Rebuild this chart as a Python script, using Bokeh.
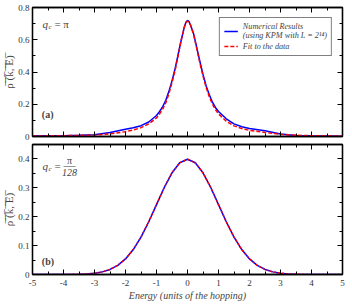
from bokeh.plotting import figure
from bokeh.models import (Range1d, LinearAxis, Label, Legend, LegendItem,
                          SingleIntervalTicker, CustomJSTickFormatter)
from bokeh.layouts import column
from bokeh.embed import file_html
from bokeh.resources import INLINE

# ---------------- data ----------------
E_top = [-5, -4.5, -4, -3.5, -3, -2.5, -2, -1.75, -1.5, -1.25, -1, -0.9, -0.8,
         -0.7, -0.6, -0.5, -0.4, -0.3, -0.2, -0.1, -0.05, 0, 0.05, 0.1, 0.2,
         0.3, 0.4, 0.5, 0.6, 0.7, 0.8, 0.9, 1, 1.25, 1.5, 1.75, 2, 2.5, 3,
         3.5, 4, 4.5, 5]
rho_num_a = [0.003, 0.004, 0.005, 0.007, 0.011, 0.025, 0.045, 0.054, 0.067,
             0.09, 0.13, 0.155, 0.185, 0.225, 0.28, 0.345, 0.42, 0.51, 0.6,
             0.68, 0.708, 0.72, 0.712, 0.69, 0.635, 0.55, 0.465, 0.385,
             0.315, 0.26, 0.215, 0.18, 0.155, 0.11, 0.078, 0.06, 0.049,
             0.035, 0.016, 0.006, 0.004, 0.003, 0.002]
rho_fit_a = [0.003, 0.004, 0.005, 0.007, 0.009, 0.016, 0.03, 0.04, 0.055,
             0.078, 0.115, 0.14, 0.17, 0.21, 0.265, 0.335, 0.41, 0.505, 0.6,
             0.68, 0.706, 0.716, 0.708, 0.69, 0.63, 0.545, 0.455, 0.375,
             0.305, 0.248, 0.203, 0.167, 0.14, 0.095, 0.066, 0.049, 0.038,
             0.025, 0.013, 0.008, 0.005, 0.004, 0.003]

E_bot = [-5, -4.75, -4.5, -4.25, -4, -3.75, -3.5, -3.25, -3, -2.75, -2.5,
         -2.25, -2, -1.75, -1.5, -1.25, -1, -0.75, -0.5, -0.25, 0, 0.25, 0.5,
         0.75, 1, 1.25, 1.5, 1.75, 2, 2.25, 2.5, 2.75, 3, 3.25, 3.5, 3.75, 4,
         4.25, 4.5, 4.75, 5]
rho_num_b = [0.0, 0.0, 0.0, 0.0001, 0.0001, 0.0004, 0.0009, 0.002, 0.0044,
             0.0091, 0.0175, 0.0317, 0.054, 0.0863, 0.1295, 0.1826, 0.242,
             0.3011, 0.3521, 0.3867, 0.3989, 0.3867, 0.3521, 0.3011, 0.242,
             0.1826, 0.1295, 0.0863, 0.054, 0.0317, 0.0175, 0.0091, 0.0044,
             0.002, 0.0009, 0.0004, 0.0001, 0.0001, 0.0, 0.0, 0.0]
rho_fit_b = list(rho_num_b)

x_ticks = [-5, -4, -3, -2, -1, 0, 1, 2, 3, 4, 5]
x_tick_labels = ["-5", "-4", "-3", "-2", "-1", "0", "1", "2", "3", "4", "5"]
ya_ticks = [0, 0.2, 0.4, 0.6, 0.8]
ya_tick_labels = ["0", "0.2", "0.4", "0.6", "0.8"]
yb_ticks = [0, 0.1, 0.2, 0.3, 0.4]
yb_tick_labels = ["0", "0.1", "0.2", "0.3", "0.4"]
legend_labels = ["Numerical Results\n(using KPM with L = 2\u00b9\u2074)",
                 "Fit to the data"]

SERIF = "Liberation Serif"
BLUE = "#0000ff"
RED = "#ff0000"
YLABEL = "\u03c1\u0305 \u0305(\u0305k\u0305,\u0305 \u0305E\u0305)\u0305"


def tick_style(ax):
    ax.major_tick_in = 5
    ax.major_tick_out = 0
    ax.minor_tick_in = 3
    ax.minor_tick_out = 0
    ax.axis_line_color = "black"
    ax.axis_line_width = 1.3
    ax.major_tick_line_width = 1
    ax.minor_tick_line_width = 1


def label_style(ax):
    ax.major_label_text_font = SERIF
    ax.major_label_text_font_size = "9px"
    ax.major_label_text_color = "#333333"
    ax.major_label_standoff = 3


def make_panel(ymax, frame_h, top_border, bottom_border, major_y,
               y_ticks, y_tick_labels, show_x_labels):
    p = figure(frame_width=310, frame_height=frame_h,
               x_range=Range1d(-5, 5), y_range=Range1d(0, ymax),
               output_backend="svg", toolbar_location=None,
               min_border_left=0, min_border_right=6,
               min_border_top=top_border, min_border_bottom=bottom_border)
    p.grid.visible = False
    p.outline_line_color = "black"
    p.outline_line_width = 1.3
    p.background_fill_color = "white"

    xb = p.below[0]
    yl = p.left[0]
    tick_style(xb)
    tick_style(yl)
    label_style(xb)
    label_style(yl)
    xb.ticker = SingleIntervalTicker(interval=1, num_minor_ticks=2)
    yl.ticker = SingleIntervalTicker(interval=major_y, num_minor_ticks=2)
    yl.major_label_overrides = dict(zip(y_ticks, y_tick_labels))
    if show_x_labels:
        xb.major_label_overrides = dict(zip(x_ticks, x_tick_labels))
        xb.major_label_standoff = 5
    else:
        xb.formatter = CustomJSTickFormatter(code="return ''")
        xb.major_label_standoff = 0
    yl.axis_label = YLABEL
    yl.axis_label_text_font = SERIF
    yl.axis_label_text_font_style = "normal"
    yl.axis_label_text_font_size = "11px"
    yl.axis_label_standoff = 0

    top = LinearAxis(ticker=SingleIntervalTicker(interval=1, num_minor_ticks=2),
                     formatter=CustomJSTickFormatter(code="return ''"))
    right = LinearAxis(ticker=SingleIntervalTicker(interval=major_y, num_minor_ticks=2),
                       formatter=CustomJSTickFormatter(code="return ''"))
    for ax in (top, right):
        tick_style(ax)
        ax.major_label_standoff = 0
    p.add_layout(top, "above")
    p.add_layout(right, "right")
    return p, xb


# ---------------- panel (a) ----------------
p1, _ = make_panel(0.8, 129, 7, 5, 0.2, ya_ticks, ya_tick_labels, False)
r_num_a = p1.line(E_top, rho_num_a, line_color=BLUE, line_width=1.5)
r_fit_a = p1.line(E_top, rho_fit_a, line_color=RED, line_width=1.5,
                  line_dash="4 2")
legend = Legend(items=[LegendItem(label=legend_labels[0], renderers=[r_num_a]),
                       LegendItem(label=legend_labels[1], renderers=[r_fit_a])],
                location="top_right", margin=10, padding=4, spacing=1,
                glyph_width=14, glyph_height=10, label_height=10,
                label_standoff=5, label_text_font=SERIF,
                label_text_font_style="italic", label_text_font_size="8.2px",
                label_text_line_height=1.5,
                border_line_color="black", border_line_width=1,
                background_fill_alpha=1)
p1.add_layout(legend)

# q_c = pi
p1.add_layout(Label(x=-4.68, y=0.70, text="q", text_font=SERIF,
                    text_font_style="italic", text_font_size="11px",
                    text_baseline="middle"))
p1.add_layout(Label(x=-4.68, y=0.70, x_offset=6, y_offset=-3, text="c",
                    text_font=SERIF, text_font_style="italic",
                    text_font_size="7px", text_baseline="middle"))
p1.add_layout(Label(x=-4.68, y=0.70, x_offset=12, text="= \u03c0",
                    text_font=SERIF, text_font_size="11px",
                    text_baseline="middle"))
p1.add_layout(Label(x=-4.7, y=0.135, text="(a)", text_font=SERIF,
                    text_font_style="bold", text_font_size="10px",
                    text_baseline="middle"))

# ---------------- panel (b) ----------------
p2, xb2 = make_panel(0.45, 130, 3, 0, 0.1, yb_ticks, yb_tick_labels, True)
xb2.axis_label = "Energy (units of the hopping)"
xb2.axis_label_text_font = SERIF
xb2.axis_label_text_font_style = "italic"
xb2.axis_label_text_font_size = "10px"
xb2.axis_label_standoff = 1
p2.line(E_bot, rho_num_b, line_color=BLUE, line_width=1.5)
p2.line(E_bot, rho_fit_b, line_color=RED, line_width=1.5, line_dash="2 2")

p2.add_layout(Label(x=-4.68, y=0.375, text="q", text_font=SERIF,
                    text_font_style="italic", text_font_size="11px",
                    text_baseline="middle"))
p2.add_layout(Label(x=-4.68, y=0.375, x_offset=6, y_offset=-3, text="c",
                    text_font=SERIF, text_font_style="italic",
                    text_font_size="7px", text_baseline="middle"))
p2.add_layout(Label(x=-4.68, y=0.375, x_offset=12, text="=",
                    text_font=SERIF, text_font_size="11px",
                    text_baseline="middle"))
p2.add_layout(Label(x=-4.68, y=0.375, x_offset=27, y_offset=6, text="\u03c0",
                    text_font=SERIF, text_font_size="10px",
                    text_baseline="middle", text_align="center"))
p2.add_layout(Label(x=-4.68, y=0.375, x_offset=27, y_offset=1, text="\u2015",
                    text_font=SERIF, text_font_size="12px",
                    text_baseline="middle", text_align="center"))
p2.add_layout(Label(x=-4.68, y=0.375, x_offset=27, y_offset=-6, text="128",
                    text_font=SERIF, text_font_style="italic",
                    text_font_size="10px", text_baseline="middle",
                    text_align="center"))
p2.add_layout(Label(x=-4.7, y=0.046, text="(b)", text_font=SERIF,
                    text_font_style="bold", text_font_size="10px",
                    text_baseline="middle"))

layout = column(p1, p2, spacing=0)
open("out.html", "w").write(file_html(layout, INLINE))
